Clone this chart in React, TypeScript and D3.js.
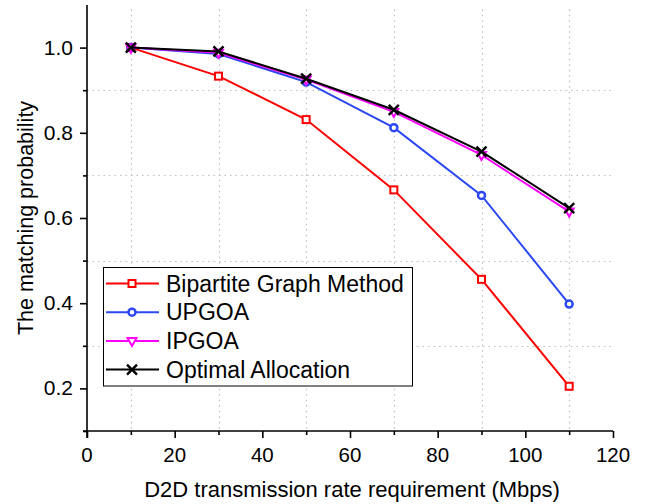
import { useEffect, useRef } from "react";
import * as d3 from "d3";

const rates = [10, 30, 50, 70, 90, 110];
const bipartite = [1.0, 0.933, 0.831, 0.666, 0.456, 0.205];
const upgoa = [1.0, 0.985, 0.919, 0.812, 0.653, 0.398];
const ipgoa = [1.0, 0.988, 0.925, 0.849, 0.748, 0.615];
const optimal = [1.0, 0.991, 0.927, 0.854, 0.756, 0.623];

const seriesNames = ["Bipartite Graph Method", "UPGOA", "IPGOA", "Optimal Allocation"];
const xTicks = [0, 20, 40, 60, 80, 100, 120];
const yTicks = [0.2, 0.4, 0.6, 0.8, 1.0];

const FONT = "Liberation Sans, Arial, sans-serif";

const App = () => {
  const svgRef = useRef<SVGSVGElement | null>(null);

  useEffect(() => {
    if (!svgRef.current) return;
    const svg = d3.select(svgRef.current);
    svg.selectAll("*").remove();

    const width = 652;
    const height = 504;
    const margin = { top: 5, right: 39, bottom: 73, left: 87 };

    const x = d3.scaleLinear().domain([0, 120]).range([margin.left, width - margin.right]);
    const y = d3.scaleLinear().domain([0.1, 1.1]).range([height - margin.bottom, margin.top]);

    const series = [
      { name: seriesNames[0], values: bipartite, color: "#ff0000", marker: "square" },
      { name: seriesNames[1], values: upgoa, color: "#2b48f2", marker: "circle" },
      { name: seriesNames[2], values: ipgoa, color: "#ff00ff", marker: "triangle" },
      { name: seriesNames[3], values: optimal, color: "#000000", marker: "cross" },
    ];

    // dotted grid at minor positions
    const grid = svg.append("g").attr("stroke", "#bdbdbd").attr("stroke-width", 1.2).attr("stroke-dasharray", "1.5,4");
    [0.3, 0.5, 0.7, 0.9].forEach((v) => {
      grid.append("line")
        .attr("x1", x(0)).attr("x2", x(120))
        .attr("y1", Math.round(y(v)) + 0.5).attr("y2", Math.round(y(v)) + 0.5);
    });
    rates.forEach((v) => {
      grid.append("line")
        .attr("x1", Math.round(x(v)) + 0.5).attr("x2", Math.round(x(v)) + 0.5)
        .attr("y1", y(1.09)).attr("y2", y(0.1));
    });

    // axes
    const xAxis = svg.append("g").attr("transform", `translate(0,${y(0.1)})`);
    xAxis.call(d3.axisBottom(x).tickValues(d3.range(0, 121, 10)).tickSize(4).tickFormat(() => "").tickSizeOuter(0));
    xAxis.call((g) => g.selectAll(".tick line").attr("y2", (d: any) => (d % 20 === 0 ? 7 : 4)));
    xAxis.selectAll("path,line").attr("stroke", "#000").attr("stroke-width", 1.6);
    xAxis.select(".domain").attr("d", `M${x(0) - 4},0H${x(120)}`);

    const yAxis = svg.append("g").attr("transform", `translate(${x(0)},0)`);
    yAxis.call(d3.axisLeft(y).tickValues(d3.range(0.1, 1.05, 0.1)).tickFormat(() => "").tickSizeOuter(0));
    yAxis.call((g) => g.selectAll(".tick line").attr("x2", (d: any) => (Math.round(d * 10) % 2 === 0 ? -7 : -4)));
    yAxis.selectAll("path,line").attr("stroke", "#000").attr("stroke-width", 1.6);
    yAxis.select(".domain").attr("d", `M0,${y(1.1)}V${y(0.1) + 7}`);

    svg.append("g").selectAll("text").data(xTicks).enter().append("text")
      .attr("x", (d) => x(d)).attr("y", y(0.1) + 31)
      .attr("text-anchor", "middle").attr("font-family", FONT).attr("font-size", 20.5)
      .text((d) => d);
    svg.append("g").selectAll("text").data(yTicks).enter().append("text")
      .attr("x", x(0) - 14).attr("y", (d) => y(d) + 7)
      .attr("text-anchor", "end").attr("font-family", FONT).attr("font-size", 21)
      .text((d) => d.toFixed(1));

    svg.append("text")
      .attr("x", 352).attr("y", 497)
      .attr("text-anchor", "middle").attr("font-family", FONT).attr("font-size", 22)
      .text("D2D transmission rate requirement (Mbps)");
    svg.append("text")
      .attr("transform", `translate(33,${(y(0.1) + y(1.1)) / 2}) rotate(-90)`)
      .attr("text-anchor", "middle").attr("font-family", FONT).attr("font-size", 21.5)
      .text("The matching probability");

    const drawMarker = (g: any, kind: string, cx: number, cy: number, color: string) => {
      if (kind === "square") {
        g.append("rect").attr("x", cx - 3.5).attr("y", cy - 3.5).attr("width", 7).attr("height", 7)
          .attr("fill", "#fff").attr("stroke", color).attr("stroke-width", 2);
      } else if (kind === "circle") {
        g.append("circle").attr("cx", cx).attr("cy", cy).attr("r", 3.5)
          .attr("fill", "#fff").attr("stroke", color).attr("stroke-width", 2.5);
      } else if (kind === "triangle") {
        g.append("path").attr("d", `M${cx - 4.5},${cy - 3}L${cx + 4.5},${cy - 3}L${cx},${cy + 5}Z`)
          .attr("fill", "#fff").attr("stroke", color).attr("stroke-width", 2);
      } else {
        const s = 5;
        g.append("path").attr("d", `M${cx - s},${cy - s}L${cx + s},${cy + s}M${cx - s},${cy + s}L${cx + s},${cy - s}`)
          .attr("stroke", color).attr("stroke-width", 2.4).attr("fill", "none");
      }
    };

    const line = d3.line<number>().x((_, i) => x(rates[i])).y((d) => y(d));
    series.forEach((s) => {
      const g = svg.append("g");
      g.append("path").attr("d", line(s.values)).attr("fill", "none")
        .attr("stroke", s.color).attr("stroke-width", 2);
      s.values.forEach((v, i) => drawMarker(g, s.marker, x(rates[i]), y(v), s.color));
    });

    // legend
    const lg = svg.append("g");
    lg.append("rect").attr("x", 103.5).attr("y", 267.5).attr("width", 309).attr("height", 118.5)
      .attr("fill", "#fff").attr("stroke", "#000").attr("stroke-width", 1);
    series.forEach((s, i) => {
      const cy = 283.5 + i * 28.7;
      lg.append("line").attr("x1", 106).attr("x2", 159).attr("y1", cy).attr("y2", cy)
        .attr("stroke", s.color).attr("stroke-width", 2);
      drawMarker(lg, s.marker, 132, cy, s.color);
      lg.append("text").attr("x", 166).attr("y", cy + 8)
        .attr("font-family", FONT).attr("font-size", 23).text(s.name);
    });
  }, []);

  return <svg ref={svgRef} width={652} height={504} style={{ position: "absolute", left: 0, top: 0, background: "#fff" }} />;
};

export default App;
